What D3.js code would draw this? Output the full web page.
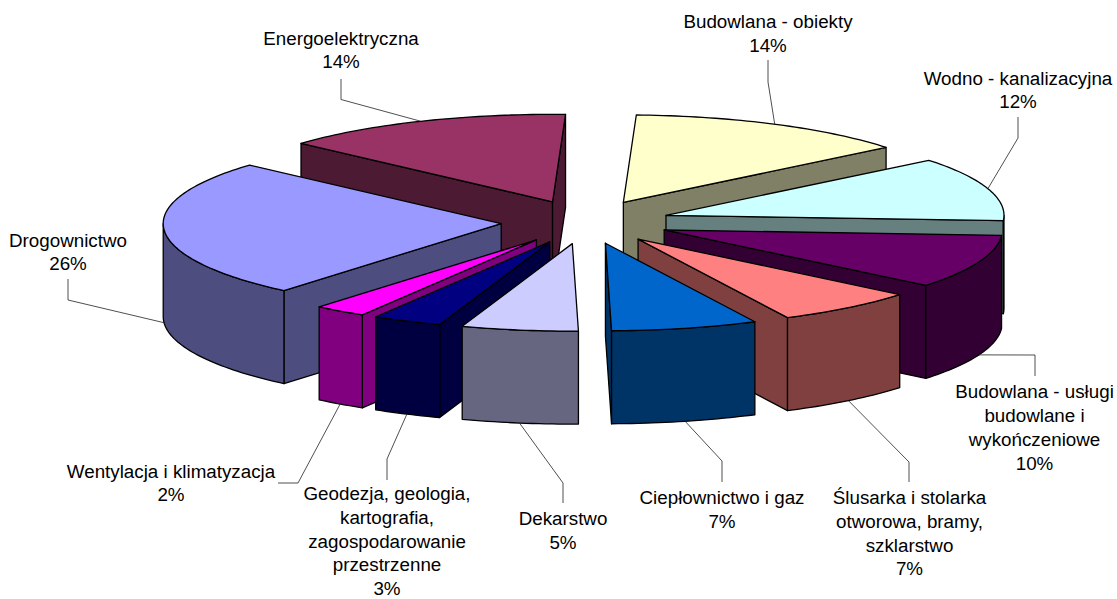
<!DOCTYPE html>
<html>
<head>
<meta charset="utf-8">
<script src="https://d3js.org/d3.v7.min.js"></script>
<style>
  html, body { margin: 0; padding: 0; background: #fff; }
  text { font-family: "Liberation Sans", Arial, sans-serif; font-size: 18.8px; fill: #000; }
</style>
</head>
<body>
<div id="chart"></div>
<script>
var categories = ["Budowlana - obiekty", "Wodno - kanalizacyjna", "Budowlana - usługi budowlane i wykończeniowe",
  "Ślusarka i stolarka otworowa, bramy, szklarstwo", "Ciepłownictwo i gaz", "Dekarstwo",
  "Geodezja, geologia, kartografia, zagospodarowanie przestrzenne", "Wentylacja i klimatyzacja",
  "Drogownictwo", "Energoelektryczna"];
// slice sizes as they look in the picture, percent labels as printed on it
var shares = [13.56, 11.8, 9.94, 6.8, 7, 5.57, 3.33, 2.5, 25.53, 13.97];
var percents = [14, 12, 10, 7, 7, 5, 3, 2, 26, 14];
var colors = ["#FFFFCC", "#CCFFFF", "#660066", "#FF8080", "#0066CC", "#CCCCFF", "#000080", "#FF00FF", "#9999FF", "#993366"];

// label wrapping and leader routing, same order as categories
var labelLines = [
  ["Budowlana - obiekty"], ["Wodno - kanalizacyjna"], ["Budowlana - usługi", "budowlane i", "wykończeniowe"],
  ["Ślusarka i stolarka", "otworowa, bramy,", "szklarstwo"], ["Ciepłownictwo i gaz"], ["Dekarstwo"],
  ["Geodezja, geologia,", "kartografia,", "zagospodarowanie", "przestrzenne"], ["Wentylacja i klimatyzacja"],
  ["Drogownictwo"], ["Energoelektryczna"]];
var labelPos = [[768, 21.7], [1018, 78], [1034.5, 391.7], [909.5, 497.4], [722, 497.4], [563, 518.4], [387, 493.5], [171, 471], [68, 240], [341, 38]];
var leaderPts = [
  [[768, 60], [768, 82]], [[1018, 117], [1018, 138]], [[1035, 376], [1035, 355]], [[909, 482], [909, 462]],
  [[722, 482], [722, 461]], [[563, 503], [563, 483]], [[387, 480], [387, 459]], [[278, 483], [298, 483]],
  [[68, 279], [68, 300]], [[341, 79], [341, 99.5]]];

var width = 1117, height = 599,
  centerX = 585.5, centerY = 222,
  radiusX = 338, radiusY = 87.5,
  depth = 93, explode = 0.25,
  startAngle = 2.2 * Math.PI / 180;

var svg = d3.select("#chart").append("svg")
  .attr("width", width)
  .attr("height", height)
  .style("display", "block");

var x = d3.scaleLinear().domain([-1, 1]).range([centerX - radiusX, centerX + radiusX]);
var y = d3.scaleLinear().domain([-1, 1]).range([centerY + radiusY, centerY - radiusY]);
var line = d3.line();

var pie = d3.pie().sort(null).startAngle(startAngle).endAngle(startAngle + 2 * Math.PI);
var arcs = pie(shares);

// unit disc position for a slice, r is the distance along the angle
function place(slice, angle, r, drop) {
  var mid = (slice.startAngle + slice.endAngle) / 2;
  return [
    x(explode * Math.sin(mid) + r * Math.sin(angle)),
    y(explode * Math.cos(mid) + r * Math.cos(angle)) + (drop || 0)
  ];
}

function arcAngles(a0, a1) {
  var n = Math.max(2, Math.ceil((a1 - a0) / 0.02));
  return d3.range(n + 1).map(i => a0 + (a1 - a0) * i / n);
}

function sideColor(c) {
  var rgb = d3.rgb(c);
  return d3.rgb(rgb.r / 2, rgb.g / 2, rgb.b / 2).formatHex();
}

function wall(slice, topPts) {
  var bottom = topPts.map(p => [p[0], p[1] + depth]).reverse();
  return line(topPts.concat(bottom)) + "Z";
}

var items = arcs.map((d, i) => ({ d: d, i: i, mid: (d.startAngle + d.endAngle) / 2 }));
// back slices first so the front ones cover them
items.sort((a, b) => Math.cos(b.mid) - Math.cos(a.mid));

var g = svg.append("g")
  .attr("stroke", "#000")
  .attr("stroke-width", 1.3)
  .attr("stroke-linejoin", "round");

items.forEach(function (item) {
  var d = item.d, top = colors[item.i], side = sideColor(top);
  var apex = place(d, 0, 0),
    outerA = place(d, d.startAngle, 1),
    outerB = place(d, d.endAngle, 1);
  var sg = g.append("g");

  // radial walls, only the ones that face the viewer
  if (outerA[0] < apex[0]) sg.append("path").attr("fill", side).attr("d", wall(d, [apex, outerA]));
  if (apex[0] < outerB[0]) sg.append("path").attr("fill", side).attr("d", wall(d, [outerB, apex]));

  // rim, the front half only
  var a0 = Math.max(d.startAngle, Math.PI / 2), a1 = Math.min(d.endAngle, 3 * Math.PI / 2);
  if (a1 > a0) {
    sg.append("path").attr("fill", side)
      .attr("d", wall(d, arcAngles(a0, a1).map(a => place(d, a, 1))));
  }

  var rim = arcAngles(d.startAngle, d.endAngle).map(a => place(d, a, 1));
  sg.append("path").attr("fill", top).attr("d", line([apex].concat(rim)) + "Z");
});

// leaders end on the middle of each slice rim
svg.append("g")
  .attr("fill", "none")
  .attr("stroke", "#222")
  .attr("stroke-width", 0.8)
  .selectAll("path")
  .data(arcs)
  .enter().append("path")
  .attr("d", function (d, i) {
    var mid = (d.startAngle + d.endAngle) / 2;
    var end = place(d, mid, 1, Math.cos(mid) < 0 ? depth : 0);
    return line(leaderPts[i].concat([end]));
  });

var labels = svg.append("g")
  .attr("text-anchor", "middle")
  .selectAll("text")
  .data(arcs)
  .enter().append("text")
  .attr("transform", (d, i) => "translate(" + labelPos[i][0] + "," + labelPos[i][1] + ")");

labels.each(function (d, i) {
  var rows = labelLines[i].concat([percents[i] + "%"]);
  d3.select(this).selectAll("tspan")
    .data(rows)
    .enter().append("tspan")
    .attr("x", 0)
    .attr("y", (r, k) => k * 23.8)
    .attr("dy", "0.35em")
    .text(r => r);
});
</script>
</body>
</html>
